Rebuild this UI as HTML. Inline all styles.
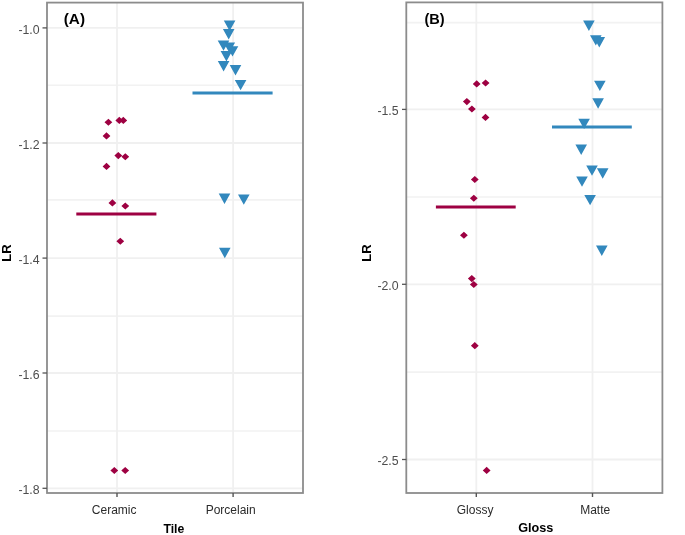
<!DOCTYPE html><html><head><meta charset="utf-8"><style>html,body{margin:0;padding:0;background:#fff;}svg{display:block;will-change:transform;}text{font-family:"Liberation Sans",sans-serif;}</style></head><body>
<svg width="685" height="535" viewBox="0 0 685 535">
<rect width="685" height="535" fill="#fff"/>
<line x1="47" x2="303" y1="85.2" y2="85.2" stroke="#f2f2f2" stroke-width="1.6"/>
<line x1="47" x2="303" y1="199.9" y2="199.9" stroke="#f2f2f2" stroke-width="1.6"/>
<line x1="47" x2="303" y1="316.1" y2="316.1" stroke="#f2f2f2" stroke-width="1.6"/>
<line x1="47" x2="303" y1="431" y2="431" stroke="#f2f2f2" stroke-width="1.6"/>
<line x1="47" x2="303" y1="27.9" y2="27.9" stroke="#f0f0f0" stroke-width="1.8"/>
<line x1="47" x2="303" y1="143" y2="143" stroke="#f0f0f0" stroke-width="1.8"/>
<line x1="47" x2="303" y1="258.1" y2="258.1" stroke="#f0f0f0" stroke-width="1.8"/>
<line x1="47" x2="303" y1="373" y2="373" stroke="#f0f0f0" stroke-width="1.8"/>
<line x1="47" x2="303" y1="488.3" y2="488.3" stroke="#f0f0f0" stroke-width="1.8"/>
<line x1="117" x2="117" y1="2.6" y2="493" stroke="#f0f0f0" stroke-width="1.8"/>
<line x1="233.1" x2="233.1" y1="2.6" y2="493" stroke="#f0f0f0" stroke-width="1.8"/>
<line x1="406.3" x2="662.4" y1="22.6" y2="22.6" stroke="#f2f2f2" stroke-width="1.6"/>
<line x1="406.3" x2="662.4" y1="197" y2="197" stroke="#f2f2f2" stroke-width="1.6"/>
<line x1="406.3" x2="662.4" y1="372.1" y2="372.1" stroke="#f2f2f2" stroke-width="1.6"/>
<line x1="406.3" x2="662.4" y1="109.4" y2="109.4" stroke="#f0f0f0" stroke-width="1.8"/>
<line x1="406.3" x2="662.4" y1="284.3" y2="284.3" stroke="#f0f0f0" stroke-width="1.8"/>
<line x1="406.3" x2="662.4" y1="459.5" y2="459.5" stroke="#f0f0f0" stroke-width="1.8"/>
<line x1="476.3" x2="476.3" y1="2.4" y2="493" stroke="#f0f0f0" stroke-width="1.8"/>
<line x1="592.5" x2="592.5" y1="2.4" y2="493" stroke="#f0f0f0" stroke-width="1.8"/>
<path d="M104.5 122.3L108.4 118.75L112.3 122.3L108.4 125.85ZM115.4 120.4L119.3 116.85L123.2 120.4L119.3 123.95ZM119.4 120.4L123.3 116.85L127.2 120.4L123.3 123.95ZM102.6 135.9L106.5 132.35L110.4 135.9L106.5 139.45ZM114.4 155.6L118.3 152.05L122.2 155.6L118.3 159.15ZM121.4 156.7L125.3 153.15L129.2 156.7L125.3 160.25ZM102.6 166.4L106.5 162.85L110.4 166.4L106.5 169.95ZM108.5 202.9L112.4 199.35L116.3 202.9L112.4 206.45ZM121.4 206L125.3 202.45L129.2 206L125.3 209.55ZM116.4 241.2L120.3 237.65L124.2 241.2L120.3 244.75ZM110.4 470.5L114.3 466.95L118.2 470.5L114.3 474.05ZM121.3 470.5L125.2 466.95L129.1 470.5L125.2 474.05ZM472.8 83.9L476.7 80.35L480.6 83.9L476.7 87.45ZM481.7 83L485.6 79.45L489.5 83L485.6 86.55ZM462.95 101.6L466.85 98.05L470.75 101.6L466.85 105.15ZM468 109L471.9 105.45L475.8 109L471.9 112.55ZM481.6 117.4L485.5 113.85L489.4 117.4L485.5 120.95ZM470.9 179.5L474.8 175.95L478.7 179.5L474.8 183.05ZM469.9 198.2L473.8 194.65L477.7 198.2L473.8 201.75ZM460 235.3L463.9 231.75L467.8 235.3L463.9 238.85ZM467.9 278.6L471.8 275.05L475.7 278.6L471.8 282.15ZM469.9 284.5L473.8 280.95L477.7 284.5L473.8 288.05ZM470.9 345.65L474.8 342.1L478.7 345.65L474.8 349.2ZM482.76 470.4L486.66 466.85L490.56 470.4L486.66 473.95Z" fill="#9E0142"/>
<path d="M223.8 20.5L235.4 20.5L229.6 30.9ZM222.9 29L234.5 29L228.7 39.4ZM217.7 40.45L229.3 40.45L223.5 50.85ZM223.5 42.4L235.1 42.4L229.3 52.8ZM226.7 46.15L238.3 46.15L232.5 56.55ZM220.6 51L232.2 51L226.4 61.4ZM217.8 61L229.4 61L223.6 71.4ZM229.7 65L241.3 65L235.5 75.4ZM234.8 79.9L246.4 79.9L240.6 90.3ZM218.7 193.5L230.3 193.5L224.5 203.9ZM238 194.4L249.6 194.4L243.8 204.8ZM219 247.8L230.6 247.8L224.8 258.2ZM583.1 20.6L594.7 20.6L588.9 31ZM590 35.2L601.6 35.2L595.8 45.6ZM593.5 37.1L605.1 37.1L599.3 47.5ZM594.05 80.7L605.65 80.7L599.85 91.1ZM592.3 98.3L603.9 98.3L598.1 108.7ZM578.3 118.7L589.9 118.7L584.1 129.1ZM575.4 144.6L587 144.6L581.2 155ZM586.2 165.4L597.8 165.4L592 175.8ZM596.9 168.3L608.5 168.3L602.7 178.7ZM576.2 176.4L587.8 176.4L582 186.8ZM584.3 194.9L595.9 194.9L590.1 205.3ZM596 245.6L607.6 245.6L601.8 256Z" fill="#3288BD"/>
<line x1="76.3" x2="156.4" y1="213.95" y2="213.95" stroke="#9E0142" stroke-width="3"/>
<line x1="192.5" x2="272.6" y1="93" y2="93" stroke="#3288BD" stroke-width="3"/>
<line x1="435.9" x2="515.7" y1="207" y2="207" stroke="#9E0142" stroke-width="3"/>
<line x1="552" x2="631.8" y1="127.1" y2="127.1" stroke="#3288BD" stroke-width="3"/>
<rect x="47" y="2.6" width="256" height="490.4" fill="none" stroke="#8c8c8c" stroke-width="1.8"/>
<rect x="406.3" y="2.4" width="256.1" height="490.6" fill="none" stroke="#8c8c8c" stroke-width="1.8"/>
<line x1="42.5" x2="47" y1="27.9" y2="27.9" stroke="#555" stroke-width="1.3"/>
<line x1="42.5" x2="47" y1="143" y2="143" stroke="#555" stroke-width="1.3"/>
<line x1="42.5" x2="47" y1="258.1" y2="258.1" stroke="#555" stroke-width="1.3"/>
<line x1="42.5" x2="47" y1="373" y2="373" stroke="#555" stroke-width="1.3"/>
<line x1="42.5" x2="47" y1="488.3" y2="488.3" stroke="#555" stroke-width="1.3"/>
<line x1="402" x2="406.3" y1="109.4" y2="109.4" stroke="#555" stroke-width="1.3"/>
<line x1="402" x2="406.3" y1="284.3" y2="284.3" stroke="#555" stroke-width="1.3"/>
<line x1="402" x2="406.3" y1="459.5" y2="459.5" stroke="#555" stroke-width="1.3"/>
<line x1="117" x2="117" y1="493" y2="497" stroke="#555" stroke-width="1.4"/>
<line x1="233.1" x2="233.1" y1="493" y2="497" stroke="#555" stroke-width="1.4"/>
<line x1="476.3" x2="476.3" y1="493" y2="497" stroke="#555" stroke-width="1.4"/>
<line x1="592.5" x2="592.5" y1="493" y2="497" stroke="#555" stroke-width="1.4"/>
<text x="39.6" y="33.8" text-anchor="end" font-size="12.3" fill="#4d4d4d">-1.0</text>
<text x="39.6" y="148.9" text-anchor="end" font-size="12.3" fill="#4d4d4d">-1.2</text>
<text x="39.6" y="264" text-anchor="end" font-size="12.3" fill="#4d4d4d">-1.4</text>
<text x="39.6" y="378.9" text-anchor="end" font-size="12.3" fill="#4d4d4d">-1.6</text>
<text x="39.6" y="494.2" text-anchor="end" font-size="12.3" fill="#4d4d4d">-1.8</text>
<text x="398.6" y="115.3" text-anchor="end" font-size="12.3" fill="#4d4d4d">-1.5</text>
<text x="398.6" y="290.2" text-anchor="end" font-size="12.3" fill="#4d4d4d">-2.0</text>
<text x="398.6" y="465.4" text-anchor="end" font-size="12.3" fill="#4d4d4d">-2.5</text>
<text x="114.2" y="514" text-anchor="middle" font-size="12" fill="#2b2b2b">Ceramic</text>
<text x="230.65" y="514" text-anchor="middle" font-size="12" fill="#2b2b2b">Porcelain</text>
<text x="475.05" y="514" text-anchor="middle" font-size="12" fill="#2b2b2b">Glossy</text>
<text x="595.2" y="514" text-anchor="middle" font-size="12" fill="#2b2b2b">Matte</text>
<text transform="translate(173.9 532.8) scale(0.94 1)" text-anchor="middle" font-size="13" font-weight="bold" fill="#000">Tile</text>
<text transform="translate(535.8 532.2) scale(0.975 1)" text-anchor="middle" font-size="13" font-weight="bold" fill="#000">Gloss</text>
<text transform="translate(11.3 253.0) rotate(-90)" text-anchor="middle" font-size="13" font-weight="bold" fill="#000">LR</text>
<text transform="translate(371.2 253.0) rotate(-90)" text-anchor="middle" font-size="13" font-weight="bold" fill="#000">LR</text>
<text x="63.75" y="24.4" font-size="15.3" font-weight="bold" fill="#000">(A)</text>
<text transform="translate(424.5 24.3) scale(0.95 1)" font-size="15.3" font-weight="bold" fill="#000">(B)</text>
</svg></body></html>
